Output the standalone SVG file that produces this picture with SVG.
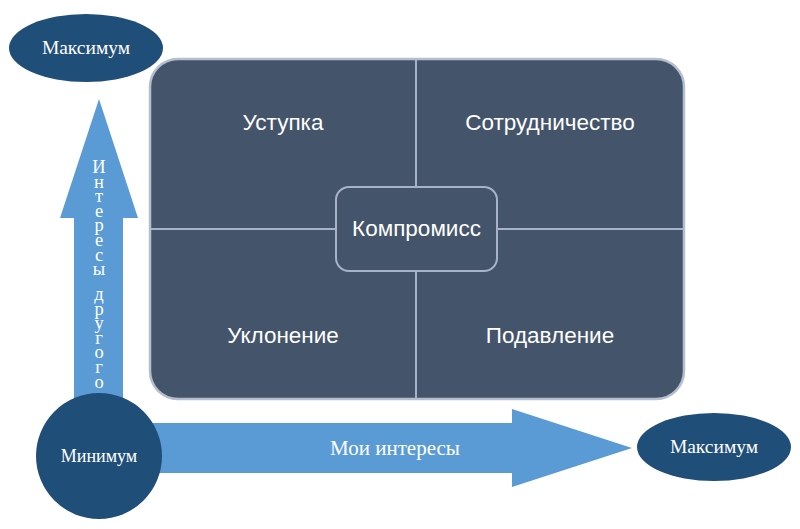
<svg xmlns="http://www.w3.org/2000/svg" width="800" height="529" viewBox="0 0 800 529">
<style>
.arrow{fill:#5B9BD5}
.oval{fill:#1F4E79}
.serif{font-family:"Liberation Serif","DejaVu Serif",serif;fill:#FFFFFF}
.sans{font-family:"Liberation Sans","Noto Sans",sans-serif;fill:#FFFFFF;font-size:22.5px;text-anchor:middle}
.div{stroke:#A7B3C6;stroke-width:2;fill:none}
.vert{writing-mode:vertical-rl;text-orientation:upright;font-size:18.5px;letter-spacing:-5.4px}
</style>
<rect width="800" height="529" fill="#FFFFFF"/>
<g id="connectors">
  <polygon id="arrow-up" class="arrow" points="74,420 74,218 60,218 99,99 138,218 123,218 123,420"/>
  <polygon id="arrow-right" class="arrow" points="140,423 512,423 512,409 632,448 512,487 512,473 140,473"/>
</g>
<g id="matrix">
  <rect x="150" y="59" width="534" height="340" rx="28" ry="28" fill="#44546A" stroke="#B4BECE" stroke-width="2.5"/>
  <line class="div" x1="416" y1="60" x2="416" y2="398"/>
  <line class="div" x1="151" y1="229" x2="683" y2="229"/>
</g>
<g id="ustupka"><text class="sans" x="283" y="130">Уступка</text></g>
<g id="sotrudnichestvo"><text class="sans" x="550" y="130">Сотрудничество</text></g>
<g id="uklonenie"><text class="sans" x="283" y="343">Уклонение</text></g>
<g id="podavlenie"><text class="sans" x="550" y="343">Подавление</text></g>
<g id="kompromiss">
  <rect x="336" y="187" width="161" height="84" rx="13" ry="13" fill="#44546A" stroke="#A7B3C6" stroke-width="2"/>
  <text class="sans" x="416.5" y="236">Компромисс</text>
</g>
<g id="max-top">
  <ellipse class="oval" cx="86" cy="48" rx="77" ry="34"/>
  <text class="serif" x="86" y="54" font-size="19.5" text-anchor="middle">Максимум</text>
</g>
<g id="min">
  <circle class="oval" cx="99" cy="456" r="63"/>
  <text class="serif" x="99" y="462" font-size="18" text-anchor="middle">Минимум</text>
</g>
<g id="max-right">
  <ellipse class="oval" cx="714" cy="447" rx="77" ry="34"/>
  <text class="serif" x="714" y="453" font-size="19.5" text-anchor="middle">Максимум</text>
</g>
<g id="label-other">
  <text class="serif vert" x="99" y="157">Интересы</text>
  <text class="serif vert" x="99" y="284">другого</text>
</g>
<g id="label-mine">
  <text class="serif" x="395" y="455" font-size="21" text-anchor="middle">Мои интересы</text>
</g>
</svg>
